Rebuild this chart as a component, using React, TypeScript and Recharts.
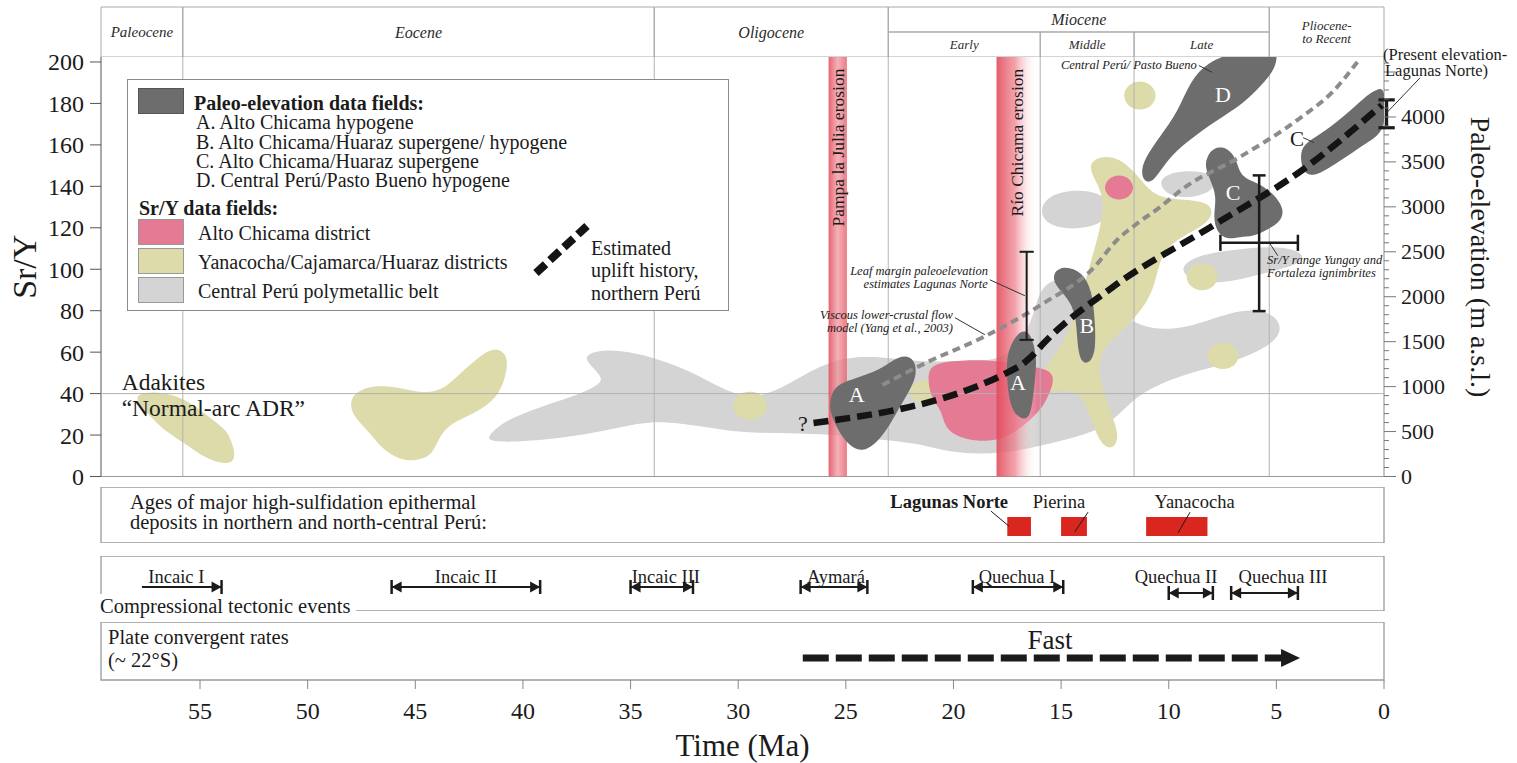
import React from "react";
import {
  ComposedChart,
  XAxis,
  YAxis,
  Scatter,
  ReferenceArea,
  ReferenceLine,
  ReferenceDot,
} from "recharts";

const FONT = '"Liberation Serif", "Times New Roman", serif';
const INK = "#1b1b1b";
const FRAME = "#9a9a9a";
const GRID = "#b2b2b2";
const DARK = "#6d6d6d";
const LIGHT_GRAY = "#d4d4d4";
const YELLOW = "#dddbaa";
const PINK = "#e47a93";

const WIDTH = 1517;
const LEFT = 101;
const RIGHT = 133;

const TIME_DOMAIN: [number, number] = [0, 59.6];
const SRY_DOMAIN: [number, number] = [0, 202.4];
const ELEV_DOMAIN: [number, number] = [0, 4667];

const timeTicks = [55, 50, 45, 40, 35, 30, 25, 20, 15, 10, 5, 0];
const srYTicks = [0, 20, 40, 60, 80, 100, 120, 140, 160, 180, 200];
const elevLabels = [0, 500, 1000, 1500, 2000, 2500, 3000, 3500, 4000];
const ELEV_MINOR = 100;
const elevTicks = Array.from({ length: 47 }, (_, i) => i * ELEV_MINOR);

// geologic time header (Ma)
const epochNames = ["Paleocene", "Eocene", "Oligocene", "Miocene", "Pliocene-\nto Recent"];
const epochOld = [59.6, 55.8, 33.9, 23.03, 5.33];
const epochYoung = [55.8, 33.9, 23.03, 5.33, 0];
const mioceneNames = ["Early", "Middle", "Late"];
const mioceneOld = [23.03, 15.97, 11.61];
const mioceneYoung = [15.97, 11.61, 5.33];
const boundaries = [55.8, 33.9, 23.03, 15.97, 11.61, 5.33];
const ADAKITE_LINE = 40;

// erosion periods
const erosionNames = ["Pampa la Julia erosion", "Río Chicama erosion"];
const erosionOld = [25.8, 18.0];
const erosionYoung = [24.95, 16.1];

// Sr/Y fields: [Ma, Sr/Y]
const centralPeruFields = [
  [[41.7, 19.1], [40.8, 27.3], [39.2, 33.6], [37.7, 38.4], [36.4, 44.2], [36.3, 48.1], [37.0, 54.8], [37.1, 58.2], [36.6, 60.6], [35.5, 61.1], [34.0, 57.7], [32.3, 51.5], [30.7, 41.8], [29.5, 37.9], [28.4, 40.3], [27.1, 48.1], [25.9, 54.8], [24.5, 58.2], [23.0, 57.3], [21.1, 54.8], [19.4, 56.3], [17.8, 55.3], [16.5, 68.4], [16.1, 87.7], [15.5, 95.9], [14.0, 94.9], [12.7, 82.9], [11.3, 70.8], [9.2, 70.8], [7.0, 80.4], [5.4, 80.4], [4.7, 73.2], [5.0, 64.5], [7.0, 54.8], [9.2, 50.0], [11.3, 40.8], [12.3, 29.7], [13.2, 22.5], [15.1, 16.7], [17.8, 10.4], [20.2, 11.4], [21.7, 16.2], [23.4, 17.6], [24.8, 19.6], [27.1, 21.0], [29.9, 21.0], [31.5, 23.9], [33.8, 27.3], [35.4, 23.9], [37.7, 19.1], [40.0, 16.7], [41.5, 16.7]],
  [[16.0, 128.8], [15.6, 135.5], [14.4, 138.6], [13.1, 137.0], [12.6, 128.8], [13.1, 121.5], [14.5, 118.8], [15.7, 121.5]],
  [[10.6, 143.2], [9.6, 147.8], [8.1, 147.2], [7.7, 140.3], [8.5, 134.8], [10.0, 134.3]],
  [[9.6, 99.8], [8.8, 106.6], [7.0, 109.5], [5.1, 111.4], [3.7, 108.5], [3.8, 102.6], [5.3, 98.8], [7.0, 93.9], [8.7, 92.9]],
];
const yanacochaFields = [
  [[58.0, 40.2], [56.7, 41.0], [55.6, 37.0], [54.6, 28.9], [53.8, 22.5], [53.6, 18.5], [53.4, 12.8], [53.4, 7.0], [53.9, 5.9], [54.8, 9.0], [55.7, 16.0], [56.7, 22.5], [57.3, 28.9], [57.9, 35.4]],
  [[48.0, 38.6], [47.3, 43.4], [46.3, 43.9], [45.3, 41.8], [44.5, 40.2], [43.7, 41.8], [42.9, 49.9], [42.2, 56.3], [41.4, 62.4], [40.9, 60.3], [40.7, 56.3], [40.8, 48.2], [41.1, 40.2], [41.7, 33.7], [42.6, 28.9], [43.6, 24.1], [44.0, 16.0], [44.3, 9.6], [45.0, 7.5], [45.7, 8.0], [46.5, 12.8], [47.1, 20.9], [47.7, 27.3], [48.0, 32.1]],
  [[30.33, 34.1], [30.08, 39.4], [29.46, 41.6], [28.84, 39.4], [28.59, 34.1], [28.84, 28.8], [29.46, 26.6], [30.08, 28.8]],
  [[12.15, 183.8], [11.91, 189.1], [11.34, 191.3], [10.77, 189.1], [10.53, 183.8], [10.77, 178.5], [11.34, 176.3], [11.91, 178.5]],
  [[9.24, 96.4], [9.01, 101.5], [8.45, 103.6], [7.89, 101.5], [7.66, 96.4], [7.89, 91.3], [8.45, 89.2], [9.01, 91.3]],
  [[8.28, 58.2], [8.05, 63.2], [7.48, 65.2], [6.91, 63.2], [6.68, 58.2], [6.91, 53.2], [7.48, 51.2], [8.05, 53.2]],
  [[22.1, 40.8], [21.87, 45.3], [21.33, 47.2], [20.79, 45.3], [20.56, 40.8], [20.79, 36.3], [21.33, 34.4], [21.87, 36.3]],
  [[10.53, 158.7], [10.4, 161.9], [10.08, 163.2], [9.76, 161.9], [9.63, 158.7], [9.76, 155.5], [10.08, 154.2], [10.4, 155.5]],
  [[13.75, 150.5], [13.19, 154.8], [12.27, 153.9], [11.34, 144.2], [10.64, 134.5], [9.24, 133.6], [7.94, 132.1], [7.99, 123.0], [9.24, 116.7], [10.27, 109.4], [10.55, 97.3], [10.87, 85.3], [12.03, 70.8], [13.19, 61.1], [13.29, 49.0], [12.73, 32.1], [12.27, 19.1], [12.59, 12.8], [13.19, 15.2], [13.66, 29.7], [14.12, 40.8], [15.05, 41.8], [15.89, 40.8], [15.98, 49.0], [15.29, 58.7], [14.68, 68.4], [14.12, 85.3], [13.66, 102.2], [13.19, 119.1], [12.96, 133.6], [13.43, 143.2]],
];
const altoChicamaFields = [
  [[21.23, 50.5], [20.86, 54.8], [19.47, 56.3], [17.84, 55.8], [16.45, 53.4], [15.52, 51.5], [15.29, 46.6], [15.61, 38.4], [15.98, 31.2], [17.14, 21.0], [18.07, 16.7], [19.47, 17.6], [20.4, 22.5], [20.54, 32.1], [21.09, 38.4]],
  [[13.03, 139.4], [12.82, 143.9], [12.31, 145.8], [11.8, 143.9], [11.59, 139.4], [11.8, 134.9], [12.31, 133.0], [12.82, 134.9]],
];
// paleo-elevation fields
const paleoFields = [
  [[25.74, 37.0], [25.51, 44.2], [24.49, 47.6], [23.42, 51.5], [22.81, 56.3], [22.26, 58.7], [21.79, 56.3], [21.7, 49.0], [22.02, 41.8], [22.49, 33.6], [22.95, 24.9], [23.51, 16.7], [24.25, 11.4], [24.9, 15.2], [25.42, 23.4], [25.74, 31.2]],
  [[17.52, 59.7], [17.05, 69.3], [16.59, 70.8], [16.31, 65.9], [16.12, 56.3], [16.22, 46.6], [16.31, 37.0], [16.45, 28.8], [16.77, 27.3], [17.24, 30.7], [17.47, 40.3], [17.52, 50.0]],
  [[15.38, 98.8], [14.82, 101.7], [14.03, 98.8], [13.57, 90.1], [13.43, 75.6], [13.38, 61.1], [13.66, 54.4], [14.12, 54.8], [14.26, 65.9], [14.31, 78.0], [14.68, 86.2], [15.33, 92.5]],
  [[11.29, 147.1], [11.1, 153.9], [10.41, 164.0], [9.57, 176.1], [9.01, 190.6], [8.22, 199.8], [6.92, 205.0], [5.76, 206.0], [4.88, 206.0], [5.06, 196.4], [5.67, 189.1], [6.46, 180.4], [7.85, 171.3], [9.01, 162.6], [9.85, 155.3], [10.41, 147.1], [10.78, 141.8], [11.15, 142.3]],
  [[8.22, 154.4], [7.94, 158.7], [7.29, 159.2], [6.83, 152.9], [6.69, 144.7], [5.9, 141.8], [5.16, 137.0], [4.6, 128.8], [4.83, 122.5], [5.43, 119.1], [6.09, 115.7], [6.69, 115.7], [7.29, 114.3], [7.76, 117.6], [7.94, 125.4], [7.76, 135.0], [8.08, 143.2], [8.32, 149.5]],
  [[3.9, 154.4], [3.76, 160.2], [2.97, 165.0], [1.9, 173.2], [0.79, 184.1], [0.32, 186.7], [0.0, 187.7], [-0.1, 177.1], [0.05, 165.9], [0.79, 161.1], [1.72, 154.4], [2.65, 148.1], [3.3, 144.7], [3.76, 146.6]],
];

// elevation curves: [Ma, m]
const upliftHistory = [[26.5, 595], [17.0, 1218], [16.4, 1330], [15.8, 1485], [12.6, 2108], [7.9, 2798], [3.8, 3409], [0.1, 4132]];
const viscousFlowModel = [[23.3, 1018], [21.2, 1274], [18.6, 1552], [15.8, 1930], [13.5, 2319], [12.4, 2631], [11.5, 2809], [10.4, 2998], [9.3, 3209], [6.7, 3554], [3.9, 3988], [2.4, 4277], [1.1, 4655]];

// elevation estimates: Ma, low, high (m), cap half-width (Ma), stroke
const estimateAge = [16.6, 5.8, -0.12];
const estimateLow = [1520, 1840, 3880];
const estimateHigh = [2500, 3350, 4190];
const estimateCap = [0.33, 0.3, 0.38];
const estimateStroke = [2, 2.5, 3.2];
const yungayRange = { elev: 2600, old: 7.6, young: 4.0, cap: 90 };

// deposits and tectonic events
const depositNames = ["Lagunas Norte", "Pierina", "Yanacocha"];
const depositOld = [17.5, 15.0, 11.05];
const depositYoung = [16.4, 13.8, 8.2];
const depositLabelAge = [20.2, 15.1, 8.8];
const depositLeaders = [[[18.26, 0.57], [17.42, 0.3]], [[13.75, 0.55], [14.36, 0.2]], [[9.01, 0.55], [9.57, 0.18]]];

const eventNames = ["Incaic I", "Incaic II", "Incaic III", "Aymará", "Quechua I", "Quechua II", "Quechua III"];
const eventOld = [57.7, 46.1, 35.0, 27.1, 19.1, 10.0, 7.1];
const eventYoung = [54.0, 39.2, 32.1, 24.0, 14.9, 7.95, 4.0];
const eventRow = [0.436, 0.436, 0.436, 0.436, 0.436, 0.327, 0.327];
const eventLabelAge = [56.1, 42.65, 33.36, 25.46, 17.05, 9.66, 4.69];
const fastConvergence = { old: 27.0, young: 3.9 };

type Note = {
  x: number;
  y: number;
  lines: string[];
  size: number;
  anchor?: "start" | "middle" | "end";
  italic?: boolean;
  bold?: boolean;
  color?: string;
  rotate?: number;
  lh?: number;
};

const mainNotes: Note[] = [
  { x: 58.64, y: 39.4, lines: ["Adakites", "“Normal-arc ADR”"], size: 23.5, anchor: "start", lh: 26 },
  { x: 27.0, y: 25.4, lines: ["?"], size: 22 },
  { x: 18.4, y: 95.9, lines: ["Leaf margin paleoelevation", "estimates Lagunas Norte"], size: 12.5, anchor: "end", italic: true, lh: 13 },
  { x: 20.03, y: 74.9, lines: ["Viscous lower-crustal flow", "model (Yang et al., 2003)"], size: 12.5, anchor: "end", italic: true, lh: 13 },
  { x: 8.7, y: 198.3, lines: ["Central Perú/ Pasto Bueno"], size: 12.5, anchor: "end", italic: true },
  { x: 5.43, y: 101.2, lines: ["Sr/Y range Yungay and", "Fortaleza ignimbrites"], size: 12.5, anchor: "start", italic: true, lh: 13 },
  { x: 4.04, y: 162.6, lines: ["C"], size: 21 },
  { x: 24.49, y: 39.4, lines: ["A"], size: 22, color: "#fff" },
  { x: 17.0, y: 45.2, lines: ["A"], size: 22, color: "#fff" },
  { x: 13.8, y: 72.8, lines: ["B"], size: 22, color: "#fff" },
  { x: 7.01, y: 137.0, lines: ["C"], size: 22, color: "#fff" },
  { x: 7.48, y: 184.3, lines: ["D"], size: 22, color: "#fff" },
];
const bandLabelY = [158.7, 161.1];
const leaders = [
  [[18.31, 94.9], [16.68, 87.2]],
  [[19.93, 76.6], [18.54, 68.4]],
  [[8.6, 198.3], [7.99, 195.0]],
  [[5.3, 112.3], [4.93, 106.5]],
  [[3.76, 163.5], [3.25, 161.1]],
  [[-1.67, 192.3], [-0.1, 175.2]],
];

const pts = (arr: number[][]) => arr.map(([x, y]) => ({ x, y }));
const noDot = () => <g />;

function noteLabel(n: Note) {
  return function NoteText(props: any) {
    const vb = props.viewBox ?? { x: 0, y: 0 };
    const lh = n.lh ?? n.size * 1.1;
    const top = vb.y - ((n.lines.length - 1) * lh) / 2;
    return (
      <g transform={n.rotate ? `rotate(${n.rotate} ${vb.x} ${vb.y})` : undefined}>
        {n.lines.map((line, i) => (
          <text
            key={i}
            x={vb.x}
            y={n.rotate ? vb.y : top + i * lh}
            textAnchor={n.anchor ?? "middle"}
            dominantBaseline="central"
            fontSize={n.size}
            fontStyle={n.italic ? "italic" : "normal"}
            fontWeight={n.bold ? 700 : 400}
            fill={n.color ?? INK}
            fontFamily={FONT}
          >
            {line}
          </text>
        ))}
      </g>
    );
  };
}

function note(n: Note, key: string, yAxisId: string | number = 0) {
  return (
    <ReferenceDot
      key={key}
      yAxisId={yAxisId}
      x={n.x}
      y={n.y}
      r={0}
      fill="none"
      stroke="none"
      ifOverflow="visible"
      label={{ content: noteLabel(n) }}
      zIndex={2000}
    />
  );
}

function field(key: string, data: number[][], color: string, z: number) {
  return (
    <Scatter
      key={key}
      yAxisId="sry"
      data={pts(data)}
      fill={color}
      line={{ fill: color, stroke: "none" }}
      lineType="joint"
      lineJointType="basisClosed"
      shape={noDot}
      isAnimationActive={false}
      legendType="none"
      zIndex={z}
    />
  );
}

function ElevTick(props: any) {
  const { x, y, payload } = props;
  const v = payload.value;
  const major = v % 500 === 0;
  return (
    <g>
      <line x1={x} x2={x + (major ? 12 : 5)} y1={y} y2={y} stroke="#777" strokeWidth={1} />
      {major && elevLabels.includes(v) && (
        <text x={x + 17} y={y} dominantBaseline="central" fontSize={22} fill={INK} fontFamily={FONT}>
          {v}
        </text>
      )}
    </g>
  );
}

function headerLabel(name: string, size: number) {
  return function HeaderText(props: any) {
    const vb = props.viewBox;
    const lines = name.split("\n");
    const cx = vb.x + vb.width / 2;
    const cy = vb.y + vb.height / 2;
    const lh = size;
    return (
      <g>
        {lines.map((l, i) => (
          <text key={i} x={cx} y={cy - ((lines.length - 1) * lh) / 2 + i * lh} textAnchor="middle" dominantBaseline="central" fontSize={size} fontStyle="italic" fill="#2a2a2a" fontFamily={FONT}>
            {l}
          </text>
        ))}
      </g>
    );
  };
}

function tectonicArrow(plainLeft: boolean) {
  return function ArrowShape(p: any) {
    const xa = Math.min(p.x1, p.x2);
    const xb = Math.max(p.x1, p.x2);
    const y = p.y1;
    const head = (tip: number, dir: number) => (
      <g>
        <line x1={tip} x2={tip} y1={y - 7} y2={y + 7} stroke={INK} strokeWidth={2.5} />
        <polygon points={`${tip},${y} ${tip - dir * 10},${y - 5.5} ${tip - dir * 10},${y + 5.5}`} fill={INK} />
      </g>
    );
    return (
      <g>
        <line x1={xa} x2={xb} y1={y} y2={y} stroke={INK} strokeWidth={2} />
        {!plainLeft && head(xa, -1)}
        {head(xb, 1)}
      </g>
    );
  };
}

function FastArrow(p: any) {
  const xa = Math.min(p.x1, p.x2);
  const xb = Math.max(p.x1, p.x2);
  const y = p.y1;
  return (
    <g>
      <line x1={xa} x2={xb - 16} y1={y} y2={y} stroke={INK} strokeWidth={7} strokeDasharray="26 7" />
      <polygon points={`${xb},${y} ${xb - 19},${y - 9} ${xb - 19},${y + 9}`} fill={INK} />
    </g>
  );
}

function HeaderChart() {
  return (
    <ComposedChart width={WIDTH} height={57} margin={{ top: 7, right: RIGHT, bottom: 0, left: LEFT }}>
      <XAxis type="number" dataKey="x" domain={TIME_DOMAIN} reversed hide allowDataOverflow />
      <YAxis type="number" domain={[0, 2]} hide allowDataOverflow />
      {epochNames.map((name, i) => (
        <ReferenceArea
          key={name}
          x1={epochOld[i]}
          x2={epochYoung[i]}
          y1={name === "Miocene" ? 1 : 0}
          y2={2}
          fill="none"
          stroke="#a9a9a9"
          strokeWidth={1}
          label={{ content: headerLabel(name, name.includes("\n") ? 13 : name === "Paleocene" ? 15 : 16) }}
        />
      ))}
      {mioceneNames.map((name, i) => (
        <ReferenceArea key={name} x1={mioceneOld[i]} x2={mioceneYoung[i]} y1={0} y2={1} fill="none" stroke="#a9a9a9" strokeWidth={1} label={{ content: headerLabel(name, 13) }} />
      ))}
    </ComposedChart>
  );
}

function MainChart() {
  return (
    <ComposedChart width={WIDTH} height={492} margin={{ top: 57, right: 0, bottom: 15.5, left: 0 }}>
      <defs>
        <linearGradient id="bandPampa" x1="0" y1="0" x2="1" y2="0">
          <stop offset="0" stopColor="#e4505f" stopOpacity={0.9} />
          <stop offset="0.5" stopColor="#ef939c" stopOpacity={0.72} />
          <stop offset="1" stopColor="#e8636f" stopOpacity={0.85} />
        </linearGradient>
        <linearGradient id="bandChicama" x1="0" y1="0" x2="1" y2="0">
          <stop offset="0" stopColor="#e24a5b" stopOpacity={0.9} />
          <stop offset="0.45" stopColor="#ec7e89" stopOpacity={0.72} />
          <stop offset="1" stopColor="#ffffff" stopOpacity={0} />
        </linearGradient>
      </defs>
      <XAxis type="number" dataKey="x" domain={TIME_DOMAIN} reversed hide allowDataOverflow />
      <YAxis
        yAxisId="sry"
        type="number"
        dataKey="y"
        domain={SRY_DOMAIN}
        ticks={srYTicks}
        interval={0}
        width={LEFT}
        tickSize={11}
        tickMargin={6}
        tick={{ fontSize: 24, fill: INK }}
        tickLine={{ stroke: "#555" }}
        axisLine={{ stroke: "#555" }}
        allowDataOverflow
        label={{
          content: (p: any) => {
            const x = p.viewBox.x + 24;
            const y = p.viewBox.y + p.viewBox.height / 2;
            return (
              <text x={x} y={y} transform={`rotate(-90 ${x} ${y})`} textAnchor="middle" dominantBaseline="central" fontSize={34} fill={INK} fontFamily={FONT}>
                Sr/Y
              </text>
            );
          },
        }}
      />
      <YAxis
        yAxisId="elev"
        orientation="right"
        type="number"
        dataKey="y"
        domain={ELEV_DOMAIN}
        ticks={elevTicks}
        interval={0}
        width={RIGHT}
        tickSize={0}
        tickMargin={0}
        tickLine={false}
        tick={(p: any) => <ElevTick {...p} />}
        axisLine={{ stroke: "#8a8a8a" }}
        allowDataOverflow
        label={{
          content: (p: any) => {
            const x = p.viewBox.x + 96;
            const y = p.viewBox.y + 200;
            return (
              <text x={x} y={y} transform={`rotate(90 ${x} ${y})`} textAnchor="middle" dominantBaseline="central" fontSize={28} fill={INK} fontFamily={FONT}>
                Paleo-elevation (m a.s.l.)
              </text>
            );
          },
        }}
      />

      {centralPeruFields.map((f, i) => field(`cp${i}`, f, LIGHT_GRAY, 600))}
      {yanacochaFields.map((f, i) => field(`ya${i}`, f, YELLOW, 601))}
      {altoChicamaFields.map((f, i) => field(`ac${i}`, f, PINK, 602))}

      {boundaries.map((b) => (
        <ReferenceLine key={`b${b}`} yAxisId="sry" x={b} stroke={GRID} strokeWidth={1} zIndex={610} />
      ))}
      <ReferenceLine yAxisId="sry" y={ADAKITE_LINE} stroke={GRID} strokeWidth={1} zIndex={610} />
      <ReferenceLine yAxisId="sry" y={0} stroke={FRAME} strokeWidth={1.2} zIndex={610} />

      {erosionNames.map((name, i) => (
        <ReferenceArea
          key={name}
          yAxisId="sry"
          x1={erosionOld[i]}
          x2={erosionYoung[i]}
          fill={i === 0 ? "url(#bandPampa)" : "url(#bandChicama)"}
          fillOpacity={1}
          stroke="none"
          zIndex={620}
        />
      ))}

      {paleoFields.map((f, i) => field(`pe${i}`, f, DARK, 630))}

      <Scatter
        yAxisId="elev"
        data={pts(viscousFlowModel)}
        line={{ stroke: "#8c8c8c", strokeWidth: 4, strokeDasharray: "8 5" }}
        lineType="joint"
        lineJointType="monotoneX"
        shape={noDot}
        isAnimationActive={false}
        legendType="none"
        zIndex={640}
      />
      <Scatter
        yAxisId="elev"
        data={pts(upliftHistory)}
        line={{ stroke: "#141414", strokeWidth: 6.5, strokeDasharray: "15 7" }}
        lineType="joint"
        lineJointType="monotoneX"
        shape={noDot}
        isAnimationActive={false}
        legendType="none"
        zIndex={650}
      />

      {estimateAge.flatMap((ma, i) => [
        <ReferenceLine key={`e${i}`} yAxisId="elev" segment={[{ x: ma, y: estimateLow[i] }, { x: ma, y: estimateHigh[i] }]} stroke={INK} strokeWidth={estimateStroke[i]} ifOverflow="visible" zIndex={660} />,
        <ReferenceLine key={`eh${i}`} yAxisId="elev" segment={[{ x: ma + estimateCap[i], y: estimateHigh[i] }, { x: ma - estimateCap[i], y: estimateHigh[i] }]} stroke={INK} strokeWidth={estimateStroke[i]} ifOverflow="visible" zIndex={660} />,
        <ReferenceLine key={`el${i}`} yAxisId="elev" segment={[{ x: ma + estimateCap[i], y: estimateLow[i] }, { x: ma - estimateCap[i], y: estimateLow[i] }]} stroke={INK} strokeWidth={estimateStroke[i]} ifOverflow="visible" zIndex={660} />,
      ])}
      <ReferenceLine yAxisId="elev" segment={[{ x: yungayRange.old, y: yungayRange.elev }, { x: yungayRange.young, y: yungayRange.elev }]} stroke={INK} strokeWidth={2.5} ifOverflow="visible" zIndex={660} />
      <ReferenceLine yAxisId="elev" segment={[{ x: yungayRange.old, y: yungayRange.elev - yungayRange.cap }, { x: yungayRange.old, y: yungayRange.elev + yungayRange.cap }]} stroke={INK} strokeWidth={2.5} ifOverflow="visible" zIndex={660} />
      <ReferenceLine yAxisId="elev" segment={[{ x: yungayRange.young, y: yungayRange.elev - yungayRange.cap }, { x: yungayRange.young, y: yungayRange.elev + yungayRange.cap }]} stroke={INK} strokeWidth={2.5} ifOverflow="visible" zIndex={660} />

      {leaders.map((l, i) => (
        <ReferenceLine key={`l${i}`} yAxisId="sry" segment={[{ x: l[0][0], y: l[0][1] }, { x: l[1][0], y: l[1][1] }]} stroke="#333" strokeWidth={1} ifOverflow="visible" zIndex={670} />
      ))}

      {erosionNames.map((name, i) =>
        note({ x: (erosionOld[i] + erosionYoung[i]) / 2, y: bandLabelY[i], lines: [name], size: 17.5, rotate: -90 }, `bl${i}`, "sry")
      )}
      {mainNotes.map((n, i) => note(n, `n${i}`, "sry"))}
    </ComposedChart>
  );
}

function DepositChart() {
  return (
    <ComposedChart width={WIDTH} height={56} margin={{ top: 0, right: RIGHT, bottom: 0, left: LEFT }}>
      <XAxis type="number" dataKey="x" domain={TIME_DOMAIN} reversed hide allowDataOverflow />
      <YAxis type="number" domain={[0, 1]} hide allowDataOverflow />
      <ReferenceArea x1={TIME_DOMAIN[0]} x2={TIME_DOMAIN[1]} y1={0} y2={1} fill="none" stroke={FRAME} strokeWidth={1.3} />
      {depositNames.map((name, i) => (
        <ReferenceArea key={name} x1={depositOld[i]} x2={depositYoung[i]} y1={0.125} y2={0.464} fill="#d9261e" fillOpacity={1} stroke="none" />
      ))}
      {depositLeaders.map((l, i) => (
        <ReferenceLine key={`dl${i}`} segment={[{ x: l[0][0], y: l[0][1] }, { x: l[1][0], y: l[1][1] }]} stroke={INK} strokeWidth={1} ifOverflow="visible" />
      ))}
      {depositNames.map((name, i) =>
        note({ x: depositLabelAge[i], y: 0.73, lines: [name], size: 18.5, bold: i === 0 }, `dn${i}`)
      )}
    </ComposedChart>
  );
}

function TectonicChart() {
  return (
    <ComposedChart width={WIDTH} height={55} margin={{ top: 0, right: RIGHT, bottom: 0, left: LEFT }}>
      <XAxis type="number" dataKey="x" domain={TIME_DOMAIN} reversed hide allowDataOverflow />
      <YAxis type="number" domain={[0, 1]} hide allowDataOverflow />
      <ReferenceArea x1={TIME_DOMAIN[0]} x2={TIME_DOMAIN[1]} y1={0} y2={1} fill="none" stroke={FRAME} strokeWidth={1.3} />
      {eventNames.map((name, i) => (
        <ReferenceLine
          key={name}
          segment={[{ x: eventOld[i], y: eventRow[i] }, { x: eventYoung[i], y: eventRow[i] }]}
          shape={tectonicArrow(i === 0)}
          ifOverflow="visible"
        />
      ))}
      {eventNames.map((name, i) => note({ x: eventLabelAge[i], y: 0.62, lines: [name], size: 18.5 }, `ev${i}`))}
    </ComposedChart>
  );
}

function PlateChart() {
  return (
    <ComposedChart width={WIDTH} height={141} margin={{ top: 0, right: RIGHT, bottom: 0, left: LEFT }}>
      <XAxis
        type="number"
        dataKey="x"
        domain={TIME_DOMAIN}
        reversed
        ticks={timeTicks}
        interval={0}
        height={83}
        tickSize={9}
        tickMargin={13}
        tick={{ fontSize: 24, fill: INK }}
        tickLine={{ stroke: "#888" }}
        axisLine={false}
        allowDataOverflow
        label={{
          content: (p: any) => (
            <text x={p.viewBox.x + p.viewBox.width / 2} y={p.viewBox.y + 65} textAnchor="middle" dominantBaseline="central" fontSize={31} fill={INK} fontFamily={FONT}>
              Time (Ma)
            </text>
          ),
        }}
      />
      <YAxis type="number" domain={[0, 1]} hide allowDataOverflow />
      <ReferenceArea x1={TIME_DOMAIN[0]} x2={TIME_DOMAIN[1]} y1={0} y2={1} fill="none" stroke={FRAME} strokeWidth={1.3} />
      <ReferenceLine segment={[{ x: fastConvergence.old, y: 0.38 }, { x: fastConvergence.young, y: 0.38 }]} shape={FastArrow} ifOverflow="visible" />
      {note({ x: 15.52, y: 0.69, lines: ["Fast"], size: 27 }, "fast")}
    </ComposedChart>
  );
}

const paleoItems = [
  "A. Alto Chicama hypogene",
  "B. Alto Chicama/Huaraz supergene/ hypogene",
  "C. Alto Chicama/Huaraz supergene",
  "D. Central Perú/Pasto Bueno hypogene",
];
const srYItems = ["Alto Chicama district", "Yanacocha/Cajamarca/Huaraz districts", "Central Perú polymetallic belt"];
const srYColors = [PINK, YELLOW, LIGHT_GRAY];

function FieldLegend() {
  const txt = (center: number, left: number, text: string, bold = false) => (
    <div key={text} style={{ position: "absolute", left, top: center - 11, lineHeight: "22px", fontSize: 20, fontWeight: bold ? 700 : 400, whiteSpace: "nowrap", color: INK }}>
      {text}
    </div>
  );
  const swatch = (top: number, color: string, border: string) => (
    <div key={top} style={{ position: "absolute", left: 10, top, width: 46, height: 26, background: color, border: `1px solid ${border}`, boxSizing: "border-box" }} />
  );
  return (
    <div style={{ position: "absolute", left: 127, top: 79, width: 602, height: 232, background: "#fff", border: "1.5px solid #8a8a8a", boxSizing: "border-box" }}>
      {swatch(8, DARK, "#555")}
      {txt(23, 66, "Paleo-elevation data fields:", true)}
      {paleoItems.map((t, i) => txt([42, 62, 81, 100][i], 68, t))}
      {txt(128, 11, "Sr/Y data fields:", true)}
      {srYItems.map((t, i) => [swatch([139, 168, 197][i], srYColors[i], "#999"), txt([153, 182, 211][i], 70, t)])}
      <svg style={{ position: "absolute", left: 0, top: 0 }} width={600} height={230}>
        <line x1={408} y1={193} x2={459} y2={146} stroke="#141414" strokeWidth={8} strokeDasharray="13 6" />
      </svg>
      {txt(168, 463, "Estimated")}
      {txt(190, 463, "uplift history,")}
      {txt(213, 463, "northern Perú")}
    </div>
  );
}

const textStyle = (left: number, center: number, size = 20.5): React.CSSProperties => ({
  position: "absolute",
  left,
  top: center - size * 0.6,
  lineHeight: `${size * 1.2}px`,
  fontSize: size,
  whiteSpace: "nowrap",
  color: INK,
});

export default function App() {
  return (
    <div style={{ position: "absolute", left: 0, top: 0, width: WIDTH, height: 763, background: "#fff", overflow: "hidden", fontFamily: FONT }}>
      <div style={{ position: "absolute", left: 0, top: 0 }}>
        <MainChart />
      </div>
      <div style={{ position: "absolute", left: 0, top: 0 }}>
        <HeaderChart />
      </div>
      <FieldLegend />
      <div style={textStyle(1383, 55, 16.5)}>(Present elevation-</div>
      <div style={textStyle(1385, 71, 16.5)}>Lagunas Norte)</div>

      <div style={{ position: "absolute", left: 0, top: 487 }}>
        <DepositChart />
      </div>
      <div style={textStyle(130, 502)}>Ages of major high-sulfidation epithermal</div>
      <div style={textStyle(130, 522)}>deposits in northern and north-central Perú:</div>

      <div style={{ position: "absolute", left: 0, top: 556 }}>
        <TectonicChart />
      </div>
      <div style={{ ...textStyle(100, 606), background: "#fff", paddingRight: 5 }}>Compressional tectonic events</div>

      <div style={{ position: "absolute", left: 0, top: 622 }}>
        <PlateChart />
      </div>
      <div style={textStyle(108, 637)}>Plate convergent rates</div>
      <div style={textStyle(108, 660)}>(~ 22°S)</div>
    </div>
  );
}
